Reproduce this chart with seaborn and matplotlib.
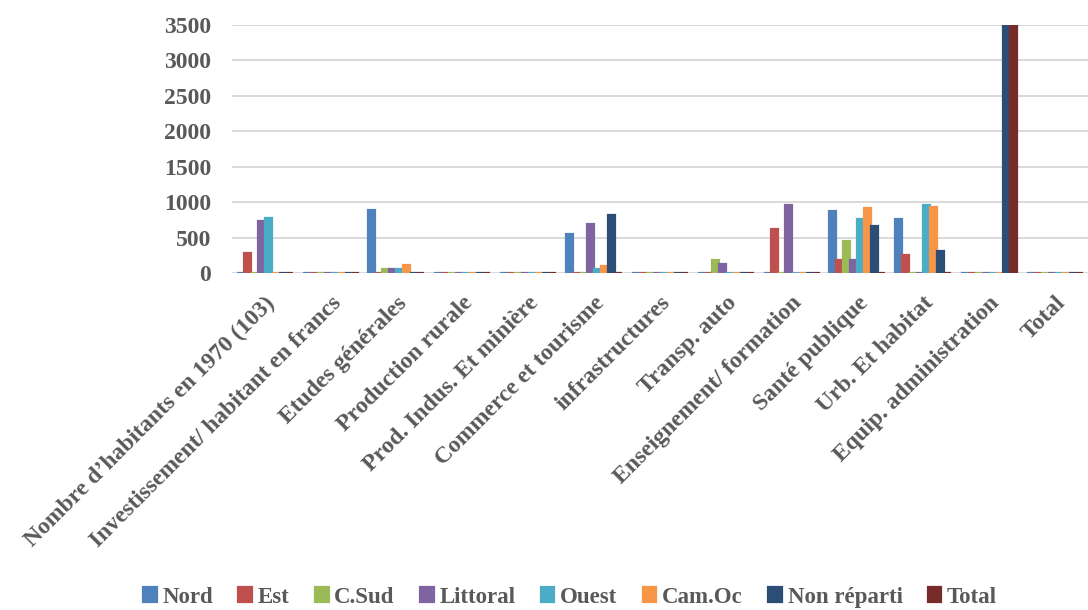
import matplotlib
matplotlib.use("Agg")
import matplotlib.pyplot as plt
import seaborn as sns
import pandas as pd

categories = [
    "Nombre d\u2019habitants en 1970 (103)",
    "Investissement/ habitant en francs",
    "Etudes générales",
    "Production rurale",
    "Prod. Indus. Et minière",
    "Commerce et tourisme",
    "infrastructures",
    "Transp. auto",
    "Enseignement/ formation",
    "Santé publique",
    "Urb. Et habitat",
    "Equip. administration",
    "Total",
]

regions = ["Nord", "Est", "C.Sud", "Littoral", "Ouest", "Cam.Oc", "Non réparti", "Total"]

nord        = [0,   0, 890, 0, 0, 550, 0,   0,   0, 880, 760,    0, 0]
est         = [280, 0,   0, 0, 0,   0, 0,   0, 620, 190, 250,    0, 0]
c_sud       = [0,   0,  60, 0, 0,   0, 0, 190,   0, 450,   0,    0, 0]
littoral    = [730, 0,  50, 0, 0, 690, 0, 130, 960, 190,   0,    0, 0]
ouest       = [770, 0,  55, 0, 0,  60, 0,   0,   0, 760, 960,    0, 0]
cam_oc      = [0,   0, 110, 0, 0, 100, 0,   0,   0, 920, 930,    0, 0]
non_reparti = [0,   0,   0, 0, 0, 820, 0,   0,   0, 670, 310, 3500, 0]
total       = [0,   0,   0, 0, 0,   0, 0,   0,   0,   0,   0, 3500, 0]

series = [nord, est, c_sud, littoral, ouest, cam_oc, non_reparti, total]
colors = ["#4F81BD", "#C0504D", "#9BBB59", "#8064A2",
          "#4BACC6", "#F79646", "#2C4D75", "#772C2A"]

rows = []
for region, values in zip(regions, series):
    for cat, v in zip(categories, values):
        rows.append({"categorie": cat, "region": region, "valeur": v})
df = pd.DataFrame(rows)

sns.set_style("white")
plt.rcParams["font.family"] = ["Liberation Serif", "DejaVu Serif"]
plt.rcParams["font.weight"] = "bold"
text_color = "#595959"

fig = plt.figure(figsize=(10.88, 6.10), dpi=100)
ax = fig.add_axes([0.213, 0.5525, 0.787, 0.4065])

sns.barplot(data=df, x="categorie", y="valeur", hue="region",
            order=categories, hue_order=regions, palette=colors,
            width=0.85, saturation=1, errorbar=None, ax=ax)

# outline each bar in its own colour so empty bars show as a thin strip
for patch in ax.patches:
    fc = patch.get_facecolor()
    patch.set_edgecolor(fc)
    patch.set_linewidth(1.6)

ax.set_ylim(0, 3500)
ax.set_xlim(-0.5, len(categories) - 0.5)
ax.set_yticks(range(0, 3501, 500))
ax.yaxis.grid(True, color="#D9D9D9", linewidth=1.4)
ax.set_axisbelow(True)
for s in ax.spines.values():
    s.set_visible(False)

ax.set_xlabel("")
ax.set_ylabel("")
ax.tick_params(axis="y", length=0, pad=15, labelsize=17, labelcolor=text_color)
ax.tick_params(axis="x", length=0, pad=14, labelsize=17, labelcolor=text_color)
ax.set_xticks(range(len(categories)))
ax.set_xticklabels(categories, rotation=45, ha="right", rotation_mode="anchor",
                   fontweight="bold")
for lbl in ax.get_yticklabels():
    lbl.set_fontweight("bold")

handles, labels = ax.get_legend_handles_labels()
ax.get_legend().remove()
fig.legend(handles, labels, loc="center", bbox_to_anchor=(0.524, 0.021),
           ncol=8, frameon=False, handlelength=0.6, handleheight=0.6,
           handletextpad=0.25, columnspacing=1.1,
           prop={"family": "Liberation Serif", "weight": "bold", "size": 16.5},
           labelcolor=text_color)

fig.savefig("out.png", dpi=100)
